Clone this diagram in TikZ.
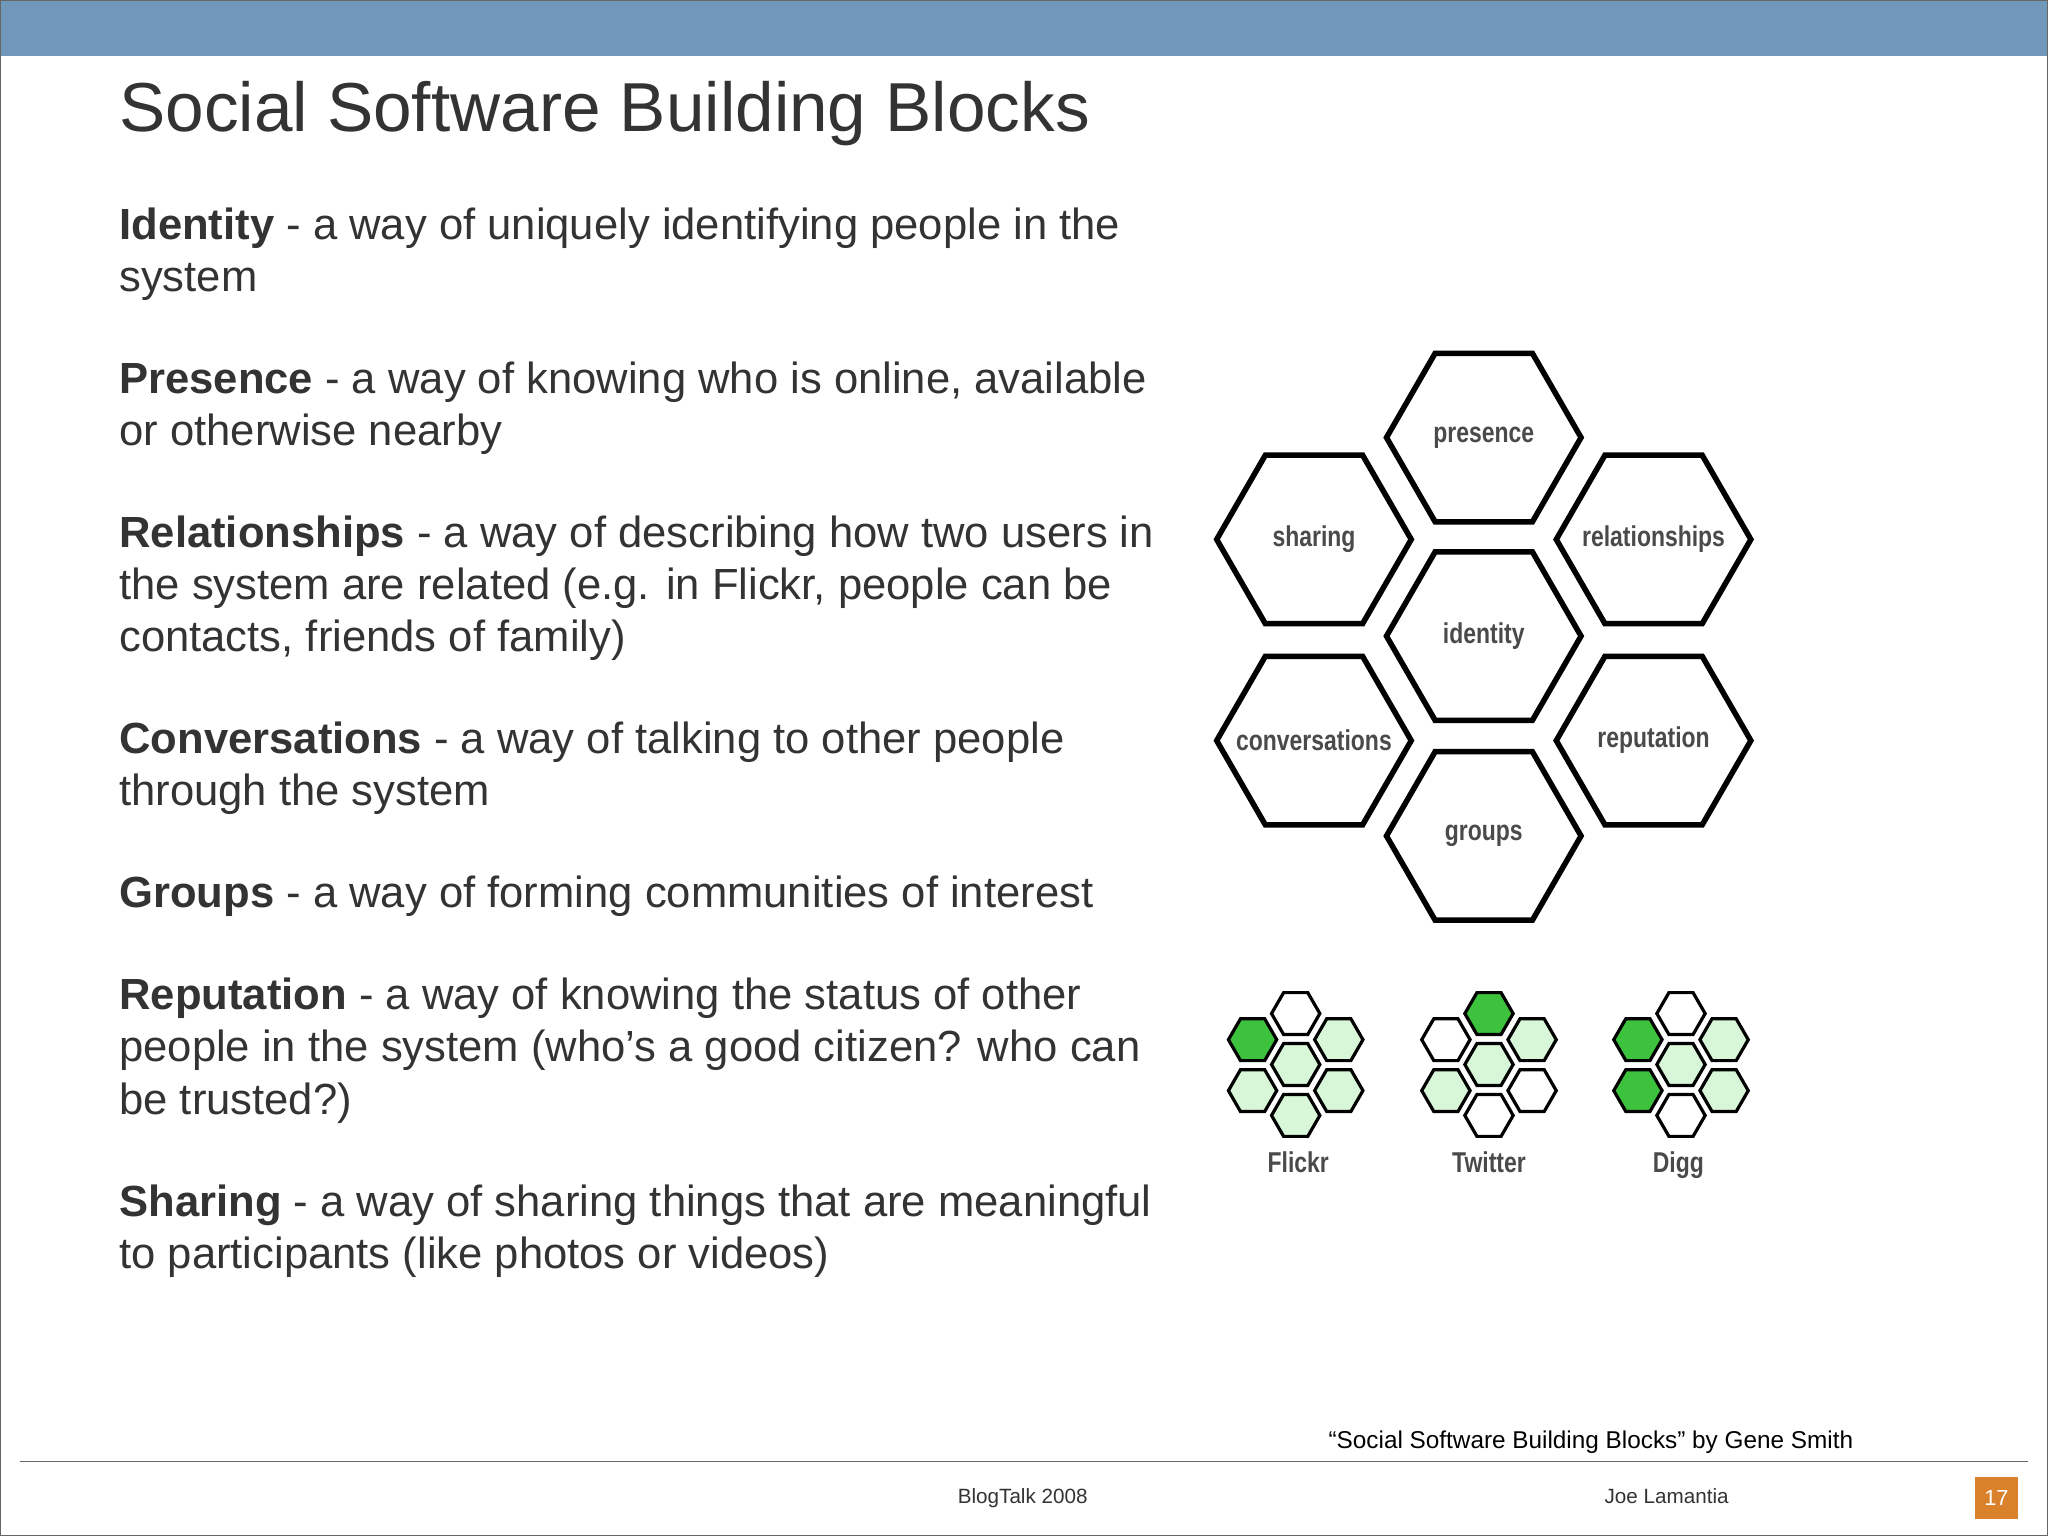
\documentclass[tikz,border=0pt]{standalone}
\usepackage{fontspec}
\setmainfont{Liberation Sans}
\newfontfamily\narrowf{Liberation Sans}[FakeStretch=0.8]
\usetikzlibrary{shapes.geometric}
\definecolor{bar}{HTML}{7098BB}
\definecolor{txt}{HTML}{333333}
\definecolor{hexg}{HTML}{4A4A4A}
\definecolor{dg}{HTML}{3CC23C}
\definecolor{lg}{HTML}{D8F7D8}
\definecolor{pg}{HTML}{D9822B}
\begin{document}
\begin{tikzpicture}[x=0.02cm,y=-0.02cm,
  body/.style={anchor=base west,inner sep=0,text=txt,font=\fontsize{19}{21}\selectfont},
  big/.style={regular polygon,regular polygon sides=6,minimum size=2.98cm,inner sep=0,draw=black,line width=2.4pt,fill=white},
  hlab/.style={inner sep=0,font=\narrowf\bfseries\fontsize{12.5}{13}\selectfont,text=hexg},
  sm/.style={regular polygon,regular polygon sides=6,minimum size=0.74cm,inner sep=0,draw=black,line width=1.4pt},
  foot/.style={font=\fontsize{9}{10}\selectfont,text=black!80}]
\useasboundingbox (0,0) rectangle (1568,1176);
\fill[white] (0,0) rectangle (1568,1176);
\fill[bar] (0,0) rectangle (1568,43);
\draw[black!60,line width=0.6pt] (0.5,0) rectangle (1567.5,1175.5);
\node[anchor=base west,inner sep=0,text=txt,font=\fontsize{30.2}{32}\selectfont] (title) at (91,101) {Social Software Building Blocks};
\node[body] (l1) at (91,183) {\textbf{Identity} - a way of uniquely identifying people in the};
\node[body] (l2) at (91,223) {system};
\node[body] (l3) at (91,301) {\textbf{Presence} - a way of knowing who is online, available};
\node[body] (l4) at (91,341) {or otherwise nearby};
\node[body] (l5) at (91,419) {\textbf{Relationships} - a way of describing how two users in};
\node[body] (l6) at (91,459) {the system are related (e.g. in Flickr, people can be};
\node[body] (l7) at (91,499) {contacts, friends of family)};
\node[body] (l8) at (91,577) {\textbf{Conversations} - a way of talking to other people};
\node[body] (l9) at (91,617) {through the system};
\node[body] (l10) at (91,695) {\textbf{Groups} - a way of forming communities of interest};
\node[body] (l11) at (91,773) {\textbf{Reputation} - a way of knowing the status of other};
\node[body] (l12) at (91,813) {people in the system (who's a good citizen? who can};
\node[body] (l13) at (91,853) {be trusted?)};
\node[body] (l14) at (91,931) {\textbf{Sharing} - a way of sharing things that are meaningful};
\node[body] (l15) at (91,971) {to participants (like photos or videos)};
% big hexes
\foreach \nm/\cx/\cy in {presence/1136/335, sharing/1006/413, relationships/1266/413, identity/1136/487, conversations/1006/567, reputation/1266/567, groups/1136/640}{
  \node[big] (\nm) at (\cx,\cy) {};
  \node[hlab] (\nm-t) at (\nm.center) {\nm};
}
% small sets
\foreach \nm/\cx/\a/\b/\c/\d/\e/\f/\g in {
  flickr/992/white/dg/lg/lg/lg/lg/lg,
  twitter/1140/dg/white/lg/lg/lg/white/white,
  digg/1287/white/dg/lg/lg/dg/lg/white}{
  \node[sm,fill=\a] (\nm-p) at (\cx,776) {};
  \node[sm,fill=\b] (\nm-s) at (\cx-33,796) {};
  \node[sm,fill=\c] (\nm-r) at (\cx+33,796) {};
  \node[sm,fill=\d] (\nm-i) at (\cx,815) {};
  \node[sm,fill=\e] (\nm-c) at (\cx-33,835) {};
  \node[sm,fill=\f] (\nm-u) at (\cx+33,835) {};
  \node[sm,fill=\g] (\nm-g) at (\cx,854) {};
}
\node[hlab,anchor=base] (cf) at (994,898) {Flickr};
\node[hlab,anchor=base] (ct) at (1140,898) {Twitter};
\node[hlab,anchor=base] (cd) at (1285,898) {Digg};
\node[anchor=base,inner sep=0,font=\fontsize{10.6}{12}\selectfont] (credit) at (1218,1109) {``Social Software Building Blocks'' by Gene Smith};
\draw[black!60,line width=0.6pt] (15,1119) -- (1553,1119);
\node[foot,anchor=base] (f1) at (783,1151) {BlogTalk 2008};
\node[foot,anchor=base] (f2) at (1276,1151) {Joe Lamantia};
\node[fill=pg,minimum width=0.66cm,minimum height=0.64cm,inner sep=0,text=white,font=\fontsize{9.5}{10}\selectfont] (pg) at (1528.5,1147) {17};
\end{tikzpicture}
\end{document}
